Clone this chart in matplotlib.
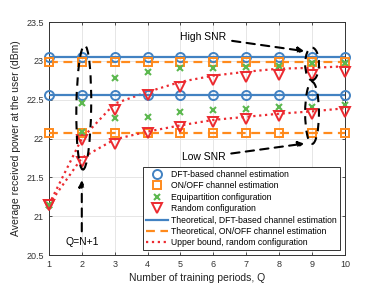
import numpy as np
from matplotlib import pyplot as plt
from matplotlib.patches import Ellipse

Q = np.arange(1, 11)

# high SNR
dft_hi = [23.05] * 10
onoff_hi = [22.99] * 10
equi_hi = [21.15, 22.46, 22.78, 22.86, 22.91, 22.91, 22.92, 22.93, 22.97, 22.97]
rand_hi = [21.15, 21.98, 22.37, 22.56, 22.67, 22.75, 22.79, 22.82, 22.82, 22.86]
ub_hi = [21.15, 22.0, 22.45, 22.6, 22.73, 22.81, 22.86, 22.9, 22.91, 22.93]

# low SNR
dft_lo = [22.56] * 10
onoff_lo = [22.07] * 10
equi_lo = [21.15, 22.08, 22.26, 22.28, 22.34, 22.37, 22.38, 22.4, 22.4, 22.43]
rand_lo = [21.15, 21.7, 21.93, 22.07, 22.15, 22.21, 22.25, 22.29, 22.31, 22.34]
ub_lo = [21.15, 21.75, 21.99, 22.09, 22.17, 22.24, 22.28, 22.32, 22.35, 22.39]

blue = '#4282c2'
orange = '#ff8a1c'
green = '#5cb84f'
red = '#ec2a30'

plt.rcParams['font.family'] = 'Liberation Sans'
fig = plt.figure(figsize=(3.82, 2.86), dpi=100)
ax = fig.add_axes([0.128, 0.108, 0.775, 0.815])

for dft, onoff, eq, rnd, ub in [(dft_hi, onoff_hi, equi_hi, rand_hi, ub_hi),
                                 (dft_lo, onoff_lo, equi_lo, rand_lo, ub_lo)]:
    ax.plot(Q, dft, 'o', color=blue, mfc='none', ms=6.5, mew=1.4, zorder=4, clip_on=False)
    ax.plot(Q, onoff, 's', color=orange, mfc='none', ms=6, mew=1.4, zorder=4, clip_on=False)
    ax.plot(Q, eq, 'x', color=green, ms=5, mew=1.5, zorder=5, clip_on=False)
    ax.plot(Q, rnd, 'v', color=red, mfc='none', ms=7.5, mew=1.4, zorder=5, clip_on=False)
    ax.plot(Q, dft, '-', color=blue, lw=1.6, zorder=3)
    ax.plot(Q, onoff, '--', color=orange, lw=1.6, dashes=(4, 2.5), zorder=3)
    ax.plot(Q, ub, ':', color=red, lw=1.6, zorder=3)

# legend proxies
h = [
    ax.plot([], [], 'o', color=blue, mfc='none', ms=6.5, mew=1.4)[0],
    ax.plot([], [], 's', color=orange, mfc='none', ms=6, mew=1.4)[0],
    ax.plot([], [], 'x', color=green, ms=5, mew=1.5)[0],
    ax.plot([], [], 'v', color=red, mfc='none', ms=7.5, mew=1.4)[0],
    ax.plot([], [], '-', color=blue, lw=1.6)[0],
    ax.plot([], [], '--', color=orange, lw=1.6, dashes=(4, 2.5))[0],
    ax.plot([], [], ':', color=red, lw=1.6)[0],
]
labels = ['DFT-based channel estimation', 'ON/OFF channel estimation',
          'Equipartition configuration', 'Random configuration',
          'Theoretical, DFT-based channel estimation',
          'Theoretical, ON/OFF channel estimation',
          'Upper bound, random configuration']
leg = ax.legend(h, labels, loc='lower right', fontsize=6.2, frameon=True,
                fancybox=False, edgecolor='#333333', framealpha=1,
                borderpad=0.35, labelspacing=0.28, handlelength=2.6,
                handletextpad=0.4, borderaxespad=0.55)
leg.get_frame().set_linewidth(0.7)

# annotations
for cx, cy, w, hgt, ang in [(2.06, 22.4, 0.45, 1.6, -2), (9.0, 22.96, 0.42, 0.42, 0),
                            (9.0, 22.33, 0.42, 0.8, 0)]:
    ax.add_patch(Ellipse((cx, cy), w, hgt, angle=ang, fill=False, ec='k',
                         lw=1.5, ls=(0, (4, 3)), zorder=6))

arrow = dict(arrowstyle='-|>', color='k', lw=1.5, ls=(0, (4, 3)), mutation_scale=9)
ax.annotate('High SNR', xy=(8.85, 23.12), xytext=(5.0, 23.31), fontsize=7.5,
            va='center', arrowprops=arrow)
ax.annotate('Low SNR', xy=(8.85, 21.94), xytext=(5.05, 21.76), fontsize=7.5,
            va='center', arrowprops=arrow)
ax.annotate('Q=N+1', xy=(2.0, 21.5), xytext=(2.0, 20.67), fontsize=7.5,
            ha='center', va='center', arrowprops=arrow)

ax.set_xlim(1, 10)
ax.set_ylim(20.5, 23.5)
ax.set_xticks(Q)
ax.set_yticks([20.5, 21, 21.5, 22, 22.5, 23, 23.5])
ax.set_yticklabels(['20.5', '21', '21.5', '22', '22.5', '23', '23.5'])
ax.grid(True, color='#e6e6e6', lw=0.7)
ax.set_axisbelow(True)
ax.tick_params(labelsize=6.5, colors='#333333', length=2.5, width=0.6,
               direction='in', top=True, right=True)
for s in ax.spines.values():
    s.set_linewidth(0.7)
    s.set_color('#333333')
ax.set_xlabel('Number of training periods, Q', fontsize=7.5, color='#222222', labelpad=3)
ax.set_ylabel('Average received power at the user (dBm)', fontsize=7.5,
              color='#222222', labelpad=4)

fig.savefig('out.png', dpi=100)
